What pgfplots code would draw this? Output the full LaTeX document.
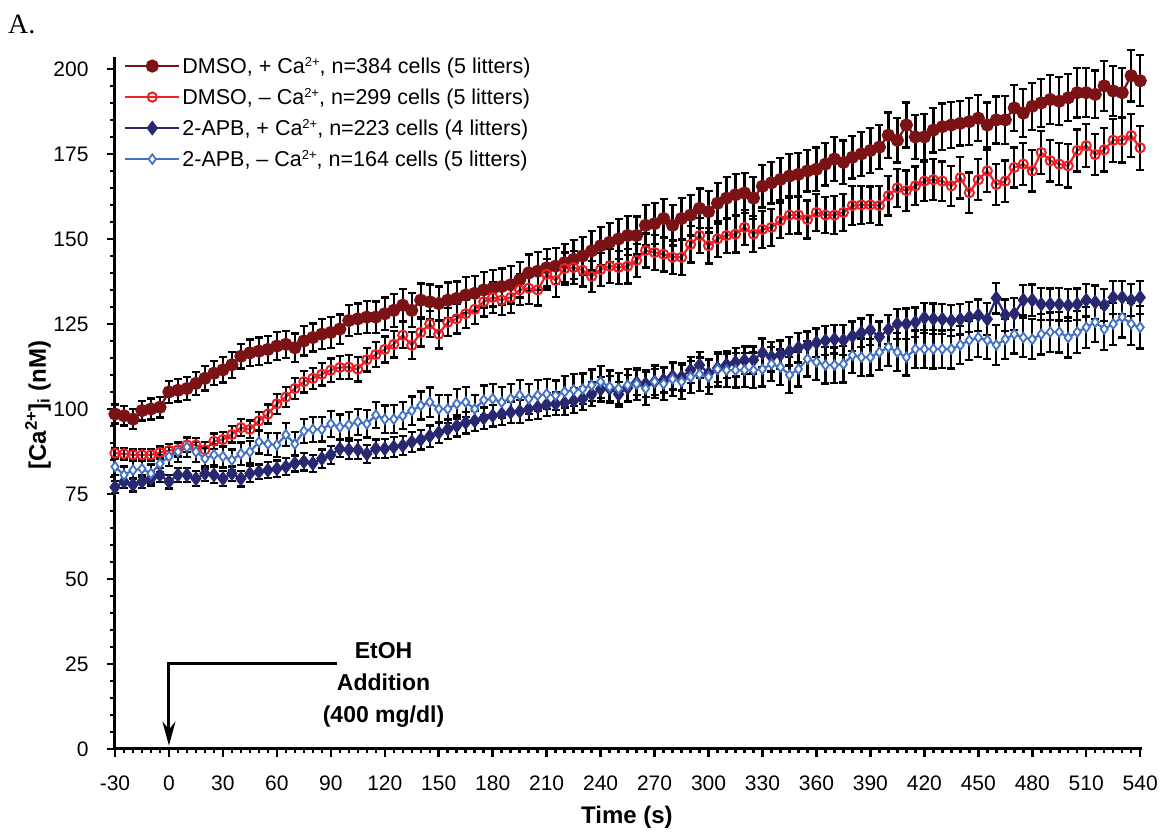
\documentclass[border=0pt]{standalone}
\usepackage{fontspec}
\setmainfont{Liberation Sans}
\newfontfamily\panelfont{Liberation Serif}
\usepackage{pgfplots}
\usepackage{pgfplotstable}
\pgfplotsset{compat=1.18}
\usetikzlibrary{arrows.meta}

\definecolor{dmsoplus}{RGB}{122,18,22}
\definecolor{dmsominus}{RGB}{237,32,36}
\definecolor{apbplus}{RGB}{40,40,112}
\definecolor{apbminus}{RGB}{68,114,196}

\newcommand{\caion}{Ca{\fontsize{13}{13}\selectfont\raisebox{0.55em}{2+}}}

% t: time (s); m/r/b/l: mean [Ca2+]i (nM); *e: SEM
\pgfplotstableread{
t   m     me   r     re   b     be   l     le
-30 98.5 2.8 87.0 1.6 77.0 1.8 83.0 2.4
-25 98.0 2.9 86.8 1.7 78.6 1.9 80.6 2.5
-20 97.0 3.0 86.5 1.6 77.7 2.0 82.0 2.6
-15 99.5 2.9 86.5 1.8 78.6 1.9 82.4 2.5
-10 100.0 3.1 86.5 1.7 79.5 2.0 81.0 2.7
-5 100.5 3.0 87.2 1.8 80.6 2.1 83.9 2.6
0 105.0 3.2 87.8 1.9 78.6 2.0 86.0 2.8
5 105.5 3.3 88.0 2.0 80.6 2.1 87.4 2.9
10 106.0 3.4 89.4 2.1 80.6 2.0 88.8 3.0
15 107.5 3.3 89.4 2.0 79.5 2.2 87.4 2.9
20 109.0 3.6 88.0 2.2 81.0 2.1 85.4 3.1
25 110.5 3.5 90.5 2.3 80.6 2.3 86.5 3.0
30 111.5 3.7 91.0 2.2 79.5 2.2 86.0 3.2
35 113.0 3.8 92.5 2.4 81.0 2.1 85.0 3.1
40 115.5 3.6 94.5 2.5 79.5 2.3 86.8 3.3
45 116.5 3.9 94.0 2.6 81.0 2.4 87.4 3.2
50 117.0 4.0 96.5 2.7 81.5 2.2 90.3 3.4
55 117.5 3.9 98.5 2.8 82.0 2.3 89.7 3.3
60 118.5 4.1 101.5 2.9 82.4 2.4 89.4 3.5
65 119.0 4.0 103.5 3.0 83.0 2.5 92.4 3.4
70 118.0 4.2 106.0 3.1 84.0 2.4 89.7 3.6
75 120.0 4.3 108.0 3.2 84.5 2.6 93.5 3.5
80 121.0 4.1 109.0 3.1 84.0 2.5 94.0 3.7
85 122.0 4.4 110.2 3.3 85.4 2.7 94.0 3.6
90 122.5 4.5 111.4 3.4 86.5 2.6 95.6 3.8
95 123.5 4.3 112.2 3.3 88.3 2.5 94.7 3.7
100 126.0 4.6 112.3 3.5 88.0 2.7 95.3 3.9
105 126.5 4.5 111.7 3.6 88.0 2.8 96.2 3.8
110 127.0 4.7 114.5 3.5 86.8 2.6 95.6 4.0
115 127.0 4.6 116.0 3.7 88.3 2.7 98.2 3.9
120 128.0 4.8 117.5 3.8 88.3 2.8 97.0 4.0
125 129.0 4.9 119.0 3.9 88.8 2.9 97.0 4.1
130 130.5 4.7 121.7 3.8 89.2 2.8 98.0 4.0
135 129.0 5.0 118.7 4.0 90.3 3.0 99.5 4.2
140 132.0 4.9 122.5 4.1 91.0 2.9 101.0 4.1
145 131.5 5.1 125.0 3.9 92.0 3.1 102.0 4.3
150 131.0 5.0 122.0 4.2 93.0 3.0 100.0 4.2
155 132.0 5.2 125.5 4.1 94.0 2.9 100.0 4.1
160 132.5 5.0 126.5 4.3 95.0 3.1 101.5 4.3
165 133.5 5.3 128.0 4.2 96.0 3.2 102.0 4.4
170 134.0 5.1 129.3 4.4 96.5 3.0 100.0 4.2
175 135.0 5.2 131.5 4.3 97.3 3.1 102.6 4.3
180 135.5 5.4 132.8 4.5 98.0 3.2 103.0 4.4
185 136.0 5.3 132.0 4.4 98.5 3.3 102.0 4.5
190 136.5 5.5 132.8 4.6 99.0 3.2 103.0 4.3
195 138.0 5.2 135.0 4.5 99.3 3.4 104.0 4.5
200 140.0 5.4 135.5 4.7 100.0 3.3 103.0 4.4
205 140.5 5.6 135.0 4.6 100.5 3.5 104.0 4.6
210 141.5 5.5 139.6 4.5 101.3 3.4 104.4 4.5
215 142.0 5.3 137.8 4.8 101.5 3.3 104.0 4.4
220 143.0 5.6 141.3 4.7 101.8 3.5 105.0 4.6
225 144.0 5.7 141.6 4.9 102.4 3.6 105.6 4.7
230 145.0 5.5 140.8 4.8 103.0 3.4 105.9 4.5
235 146.5 5.8 139.0 4.6 104.3 3.5 107.0 4.6
240 148.0 5.6 141.0 4.9 105.8 3.6 108.0 4.7
245 149.0 5.7 142.0 5.0 106.0 3.7 106.5 4.8
250 150.0 5.9 141.6 4.8 104.3 3.6 106.0 4.6
255 151.0 5.8 142.0 5.1 106.2 3.8 107.0 4.8
260 151.0 5.6 143.7 4.9 107.7 3.7 107.4 4.7
265 154.0 5.9 146.6 5.0 107.4 3.9 106.0 4.9
270 154.5 6.0 146.0 5.2 108.0 3.8 108.0 4.8
275 156.0 5.8 145.5 5.1 108.5 3.7 107.4 4.7
280 154.0 5.9 144.6 4.9 109.6 3.9 108.8 4.9
285 156.0 6.1 144.6 5.2 109.4 4.0 108.0 5.0
290 157.0 6.0 148.4 5.3 111.4 3.8 109.4 4.8
295 159.0 5.8 151.0 5.1 112.9 3.9 110.2 4.9
300 158.0 6.1 148.0 5.2 110.5 4.0 109.4 5.0
305 160.5 6.0 150.0 5.3 112.0 4.1 111.7 5.1
310 162.0 6.2 151.0 5.1 113.0 4.0 111.4 4.9
315 163.0 6.1 151.4 5.4 113.7 4.2 111.4 5.1
320 163.5 5.9 153.4 5.2 114.3 4.1 111.4 5.0
325 162.0 6.2 151.4 5.3 114.4 4.0 111.4 5.2
330 165.5 6.3 152.8 5.5 116.5 4.2 111.7 5.1
335 166.5 6.1 153.4 5.4 115.3 4.3 113.2 5.0
340 167.5 6.2 155.4 5.2 116.0 4.1 112.3 5.2
345 168.5 6.4 157.0 5.5 117.0 4.2 110.0 5.3
350 169.0 6.3 157.0 5.4 118.0 4.3 111.7 5.1
355 170.0 6.1 155.7 5.6 118.7 4.1 114.7 5.2
360 170.5 6.4 157.8 5.5 119.5 4.2 113.8 5.3
365 172.0 6.3 157.0 5.3 120.1 4.3 112.9 5.4
370 173.5 6.5 157.0 5.6 120.5 4.2 112.9 5.2
375 172.5 6.4 157.8 5.5 120.2 4.4 113.2 5.4
380 174.0 6.2 159.8 5.7 121.4 4.3 115.8 5.3
385 175.0 6.5 160.0 5.6 122.4 4.2 115.2 5.5
390 176.0 6.6 160.0 5.4 123.2 4.4 115.2 5.4
395 177.0 6.4 159.8 5.7 121.2 4.5 116.7 5.3
400 180.5 6.7 162.7 5.8 123.4 4.3 118.2 5.5
405 179.0 6.5 165.0 5.6 125.0 4.4 116.7 5.6
410 183.5 6.6 164.2 5.9 125.0 4.5 115.2 5.4
415 180.0 6.4 165.6 5.7 125.5 4.3 117.6 5.5
420 180.0 6.7 167.0 5.8 126.8 4.4 117.6 5.6
425 182.0 6.6 167.4 6.0 126.5 4.5 117.6 5.7
430 183.0 6.8 167.0 5.8 126.4 4.4 117.6 5.5
435 183.5 6.7 165.6 5.9 126.0 4.6 117.6 5.7
440 184.0 6.5 168.0 6.1 126.4 4.5 118.8 5.6
445 184.5 6.9 163.6 5.9 127.0 4.4 120.2 5.8
450 185.5 6.8 167.4 6.0 127.6 4.6 121.0 5.7
455 183.5 6.6 170.0 6.2 126.4 4.7 120.2 5.6
460 185.0 6.9 166.0 6.0 132.6 4.5 118.8 5.8
465 185.0 7.0 167.0 6.1 127.6 4.6 120.5 5.9
470 188.5 6.8 171.0 5.9 128.0 4.7 122.0 5.7
475 187.0 7.1 172.0 6.2 132.0 4.5 121.0 5.8
480 189.0 6.9 170.0 6.1 132.0 4.6 120.5 5.9
485 190.0 7.0 175.4 6.3 130.8 4.7 122.0 6.0
490 191.0 7.2 173.0 6.1 130.8 4.6 122.6 5.8
495 190.5 7.1 172.0 6.2 130.8 4.8 122.6 6.0
500 191.5 6.9 171.5 6.4 130.5 4.7 121.0 5.9
505 193.0 7.3 176.0 6.2 130.8 4.6 122.6 6.1
510 193.0 7.2 177.4 6.3 132.0 4.8 124.0 6.0
515 192.5 7.0 174.8 6.1 131.4 4.9 125.5 5.9
520 195.0 7.4 176.2 6.4 130.5 4.7 123.5 6.1
525 193.5 7.3 179.0 6.3 132.8 4.8 125.0 6.2
530 193.0 7.2 179.0 6.5 132.8 4.9 127.0 6.0
535 198.0 7.6 180.4 6.4 132.0 4.7 125.0 6.1
540 196.5 7.5 176.8 6.5 132.8 4.8 124.0 6.2
}\cadata

\begin{document}
\begin{tikzpicture}
\path (0pt,0pt) rectangle (1162pt,832pt);
\node[anchor=base west, inner sep=0pt, font=\panelfont\fontsize{28}{32}\selectfont] at (8pt,798pt) {A.};
\begin{axis}[
  at={(115pt,83pt)}, anchor=south west,
  scale only axis, width=1027pt, height=692pt,
  xmin=-30, xmax=541, ymin=0, ymax=203.5,
  axis lines*=left,
  axis line style={line width=3pt},
  clip=false,
  xtick={-30,0,...,540}, minor x tick num=5,
  ytick={0,25,...,200}, minor y tick num=4,
  tick align=outside,
  major tick length=8pt, minor tick length=4.5pt,
  every tick/.style={black, line width=2.5pt},
  /pgf/number format/assume math mode=true,
  tick label style={font=\fontsize{21}{25}\selectfont},
  xticklabel style={yshift=-15pt},
  yticklabel style={xshift=-15pt},
  xlabel={Time (s)},
  ylabel={[Ca\textsuperscript{2+}]\textsubscript{i} (nM)},
  xlabel style={font=\bfseries\fontsize{24}{29}\selectfont, at={(axis description cs:0.4985,-0.108)}, anchor=base},
  ylabel style={font=\bfseries\fontsize{24}{29}\selectfont, at={(axis description cs:-0.075,0.497)}, anchor=center},
  legend cell align=left,
  legend image code/.code={\draw[mark repeat=2,mark phase=2,#1] plot coordinates {(0pt,0pt) (27pt,0pt) (54pt,0pt)};},
  legend style={draw=none, fill=none, at={(axis description cs:0,1)}, anchor=north west,
    xshift=6pt, yshift=4pt, font=\fontsize{21.5}{26}\selectfont, row sep=9.3pt,
    nodes={inner sep=2pt}},
  error bars/y dir=both,
  error bars/y explicit,
  error bars/error bar style={black, line width=2.3pt},
  error bars/error mark options={black, line width=2.3pt, mark size=4pt, rotate=90},
]
\addplot[dmsoplus, line width=2.2pt, mark=*, mark size=5.5pt, mark options={solid, fill=dmsoplus}]
  table[x=t, y=m, y error=me] {\cadata};
\addlegendentry{DMSO, + \caion, n=384 cells (5 litters)}
\addplot[dmsominus, line width=2.2pt, mark=o, mark size=4.6pt, mark options={solid, line width=2pt, fill=white}]
  table[x=t, y=r, y error=re] {\cadata};
\addlegendentry{DMSO, – \caion, n=299 cells (5 litters)}
\addplot[apbplus, line width=2.2pt, mark=diamond*, mark size=5.8pt, mark options={solid, fill=apbplus}]
  table[x=t, y=b, y error=be] {\cadata};
\addlegendentry{2-APB, + \caion, n=223 cells (4 litters)}
\addplot[apbminus, line width=2.2pt, mark=diamond*, mark size=4.8pt, mark options={solid, line width=1.8pt, fill=white}]
  table[x=t, y=l, y error=le] {\cadata};
\addlegendentry{2-APB, – \caion, n=164 cells (5 litters)}

% ethanol addition marker
\draw[line width=3pt, -{Stealth[length=24pt, width=13pt]}] (axis cs:93.6,25) -- (axis cs:0,25) -- (axis cs:0,1);
\node[anchor=base, align=center, inner sep=0pt, font=\bfseries\fontsize{23}{32}\selectfont] at (axis cs:119.3,7.9) {EtOH\\Addition\\(400 mg/dl)};
\end{axis}
\end{tikzpicture}
\end{document}
